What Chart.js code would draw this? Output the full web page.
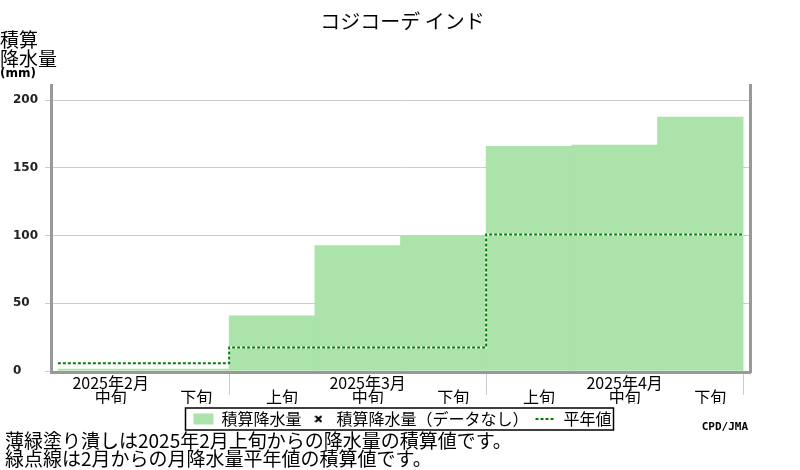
<!DOCTYPE html>
<html>
<head>
<meta charset="utf-8">
<script src="https://cdn.jsdelivr.net/npm/chart.js@4.4.1/dist/chart.umd.min.js"></script>
<style>
html,body{margin:0;padding:0;background:#fff;}
#wrap{width:800px;height:470px;}
</style>
</head>
<body>
<div id="wrap"><canvas id="c" width="800" height="470"></canvas></div>
<script>
// ---- data ----
const titleText = 'コジコーデ インド';
const dekadLabels = ['中旬', '下旬', '上旬', '中旬', '下旬', '上旬', '中旬', '下旬'];
const monthLabels = ['2025年2月', '', '', '2025年3月', '', '', '2025年4月', ''];
const precipCum = [1.5, 1.5, 40.7, 92.6, 99.8, 165.9, 166.7, 187.4];
const monthStartIndex = [0, 2, 5];
const normalCum = [5.7, 17.3, 100.7];
const yTickValues = [0, 50, 100, 150, 200];
const yTitleLines = ['積算', '降水量'];
const yUnit = '(mm)';
const noteLines = ['薄緑塗り潰しは2025年2月上旬からの降水量の積算値です。', '緑点線は2月からの月降水量平年値の積算値です。'];
const creditText = 'CPD/JMA';
const legendTexts = ['積算降水量', '積算降水量（データなし）', '平年値'];

const JP = '"Noto Sans CJK JP", "Noto Sans", sans-serif';

// built from the arrays above
const barData = precipCum.map((v, i) => ({x: i + 0.5, y: v}));
const normalPts = monthStartIndex.map((s, k) => ({x: s, y: normalCum[k]}));
normalPts.push({x: dekadLabels.length, y: normalCum[normalCum.length - 1]});
const monthBoundaries = monthStartIndex.slice(1).concat([dekadLabels.length]);

// small "x" marker for the no-data legend entry
const xMark = document.createElement('canvas');
xMark.width = 8; xMark.height = 8;
(function(){
  const g = xMark.getContext('2d');
  g.strokeStyle = '#000'; g.lineWidth = 2;
  g.beginPath(); g.moveTo(1,1); g.lineTo(7,7); g.moveTo(7,1); g.lineTo(1,7); g.stroke();
})();

const decor = {
  id: 'decor',
  afterDraw(chart) {
    const ctx = chart.ctx;
    ctx.save();
    const lg = chart.legend;
    if (lg && lg.legendHitBoxes && lg.legendHitBoxes.length) {
      const hb = lg.legendHitBoxes;
      const first = hb[0], last = hb[hb.length - 1];
      const cy = first.top + first.height / 2;
      const l = first.left - 8, r = last.left + last.width + 2;
      ctx.strokeStyle = '#000'; ctx.lineWidth = 1.5;
      ctx.strokeRect(l, cy - 11, r - l, 22);
    }
    ctx.fillStyle = '#000';
    ctx.textAlign = 'left';
    ctx.textBaseline = 'middle';
    ctx.font = '19px ' + JP;
    ctx.fillText(yTitleLines[0], 0, 40);
    ctx.fillText(yTitleLines[1], 0, 59);
    ctx.font = 'bold 12px "DejaVu Sans", sans-serif';
    ctx.fillText(yUnit, 0, 74);
    ctx.font = 'bold 11px "DejaVu Sans Mono", monospace';
    ctx.textAlign = 'right';
    ctx.fillText(creditText, 748, 427);
    ctx.restore();
  }
};

const xMin = -0.08, xMax = dekadLabels.length + 0.08;

new Chart(document.getElementById('c'), {
  type: 'bar',
  data: {
    datasets: [
      {type: 'bar', label: legendTexts[0], data: barData, xAxisID: 'x', yAxisID: 'y',
       backgroundColor: '#abe3aa', borderColor: '#abe3aa', borderWidth: 0,
       barPercentage: 1, categoryPercentage: 1, grouped: false, pointStyle: 'rect', order: 3},
      {type: 'scatter', label: legendTexts[1], data: [], xAxisID: 'x', yAxisID: 'y',
       pointStyle: xMark, borderColor: '#000', backgroundColor: 'rgba(0,0,0,0)', borderWidth: 2, order: 4},
      {type: 'line', label: '', data: normalPts, xAxisID: 'x', yAxisID: 'y', stepped: 'before',
       borderColor: '#ffffff', backgroundColor: 'rgba(0,0,0,0)', borderWidth: 2, pointRadius: 0, fill: false, order: 1},
      {type: 'line', label: legendTexts[2], data: normalPts, xAxisID: 'x', yAxisID: 'y', stepped: 'before',
       borderColor: '#008000', backgroundColor: 'rgba(0,0,0,0)', borderWidth: 2, borderDash: [3, 2],
       pointRadius: 0, fill: false, pointStyle: 'line', order: 0}
    ]
  },
  options: {
    responsive: false,
    animation: false,
    devicePixelRatio: 1,
    layout: {padding: {left: 5, right: 0, top: 0, bottom: 2}},
    scales: {
      x: {
        type: 'linear', axis: 'x', position: 'bottom', min: xMin, max: xMax, offset: false,
        afterBuildTicks: s => { s.ticks = dekadLabels.map((_, i) => ({value: i + 0.5})); },
        afterFit: s => { s.height = 31.5; },
        ticks: {
          autoSkip: false, maxRotation: 0, minRotation: 0, labelOffset: 10, padding: 3,
          color: '#000', font: {family: JP, size: 16, lineHeight: '14px'},
          callback: (v, i) => [monthLabels[i], dekadLabels[i]]
        },
        grid: {display: true, offset: false, drawOnChartArea: false, drawTicks: false, color: 'rgba(0,0,0,0)'},
        border: {display: true, color: '#999999', width: 3}
      },
      xm: {
        type: 'linear', axis: 'x', position: {y: -1.1}, min: xMin, max: xMax, offset: false,
        afterBuildTicks: s => { s.ticks = monthBoundaries.map(v => ({value: v})); },
        ticks: {display: false},
        grid: {display: true, offset: false, drawOnChartArea: false, drawTicks: true, tickLength: 22, color: '#cccccc', lineWidth: 1},
        border: {display: false}
      },
      y: {
        type: 'linear', axis: 'y', position: 'left', min: -1.1, max: 211.1,
        afterBuildTicks: s => { s.ticks = yTickValues.map(v => ({value: v})); },
        afterFit: s => { s.width = 38; },
        ticks: {crossAlign: 'far', padding: 5, color: '#222',
                font: {family: '"DejaVu Sans", sans-serif', size: 12, weight: 'bold'}},
        grid: {color: '#cccccc', lineWidth: 1, tickLength: 6, drawTicks: true},
        border: {display: true, color: '#999999', width: 3}
      },
      pad: {
        type: 'linear', axis: 'y', position: 'left', weight: 1, min: 0, max: 1,
        afterFit: s => { s.width = 8; },
        ticks: {display: false}, grid: {display: false}, border: {display: false}
      },
      yR: {
        type: 'linear', axis: 'y', position: 'right', min: 0, max: 1,
        afterFit: s => { s.width = 50; },
        ticks: {display: false}, grid: {display: false},
        border: {display: true, color: '#999999', width: 3}
      }
    },
    plugins: {
      title: {
        display: true, text: titleText, color: '#000',
        font: {family: JP, size: 20, weight: 'normal', lineHeight: 1.2},
        padding: {top: 9, bottom: 52}
      },
      subtitle: {
        display: true, position: 'bottom', align: 'start', text: noteLines, color: '#000',
        font: {family: JP, size: 19, weight: 'normal', lineHeight: '18px'},
        padding: {top: -5, bottom: 0}
      },
      legend: {
        display: true, position: 'bottom',
        labels: {
          usePointStyle: true, pointStyleWidth: 20, boxHeight: 11, padding: 7,
          color: '#000', font: {family: JP, size: 16},
          generateLabels: (chart) => chart.data.datasets.map((ds, i) => ({
            text: ds.label, datasetIndex: i,
            fillStyle: ds.backgroundColor, strokeStyle: ds.borderColor,
            lineWidth: ds.borderWidth || 0, lineDash: ds.borderDash || [],
            pointStyle: ds.pointStyle, hidden: false, fontColor: '#000'
          })).filter(it => it.text)
        }
      },
      tooltip: {enabled: false}
    }
  },
  plugins: [decor]
});
</script>
</body>
</html>
